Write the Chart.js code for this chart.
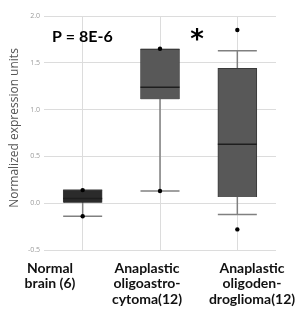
<!DOCTYPE html>
<html>
<head>
<meta charset="utf-8">
<script src="https://cdn.jsdelivr.net/npm/chart.js@4"></script>
<style>
  html, body { margin: 0; padding: 0; background: #fff; }
  #wrap { width: 305px; height: 319px; position: relative; }
</style>
</head>
<body>
<div id="wrap"><canvas id="myChart" width="305" height="319"></canvas></div>
<script>
// categorias e valores
const grupos = [['Normal', 'brain (6)'], ['Anaplastic', 'oligoastro-', 'cytoma(12)'], ['Anaplastic', 'oligoden-', 'droglioma(12)']];
const posicoes = [0.5, 1.5, 2.5];
const q1 = [0.0, 1.11, 0.065];
const mediana = [0.05, 1.24, 0.63];
const q3 = [0.14, 1.645, 1.44];
const bigodeMin = [-0.14, 0.13, -0.12];
const bigodeMax = [0.14, 1.645, 1.63];
const pontosX = [0.5, 0.5, 1.5, 1.5, 2.5, 2.5];
const pontosY = [0.14, -0.14, 1.65, 0.13, 1.85, -0.28];
const corCaixa = ['#2b2b2b', '#585858', '#585858'];
const yTicks = [-0.5, 0, 0.5, 1.0, 1.5, 2.0];

const ctx = document.getElementById('myChart');

const desenhaExtras = {
  id: 'extras',
  beforeDatasetsDraw(chart) {
    const c = chart.ctx;
    const x = chart.scales.x, y = chart.scales.y;
    const meia = 19.5;
    c.save();
    c.strokeStyle = '#808080';
    c.lineWidth = 1.5;
    posicoes.forEach((p, i) => {
      const px = x.getPixelForValue(p);
      c.beginPath();
      c.moveTo(px, y.getPixelForValue(bigodeMax[i]));
      c.lineTo(px, y.getPixelForValue(bigodeMin[i]));
      c.stroke();
      [bigodeMin[i], bigodeMax[i]].forEach(v => {
        const py = y.getPixelForValue(v);
        c.beginPath();
        c.moveTo(px - meia, py);
        c.lineTo(px + meia, py);
        c.stroke();
      });
    });
    c.restore();
  },
  afterDatasetsDraw(chart) {
    const c = chart.ctx;
    const x = chart.scales.x, y = chart.scales.y;
    const meia = 19.5;
    c.save();
    c.strokeStyle = '#1e1e1e';
    c.lineWidth = 1.5;
    posicoes.forEach((p, i) => {
      const px = x.getPixelForValue(p);
      const py = y.getPixelForValue(mediana[i]);
      c.beginPath();
      c.moveTo(px - meia, py);
      c.lineTo(px + meia, py);
      c.stroke();
    });
    // textos
    c.fillStyle = '#000';
    c.font = 'bold 16px Lato';
    c.textAlign = 'left';
    c.textBaseline = 'alphabetic';
    c.fillText('P = 8E-6', 52, 42);
    c.font = 'bold 26px "DejaVu Sans"';
    c.textAlign = 'center';
    c.fillText('*', 197, 48);
    // titulo do eixo
    c.save();
    c.translate(15, 128);
    c.rotate(-Math.PI / 2);
    c.fillStyle = '#555';
    c.font = '12px "Open Sans"';
    c.textBaseline = 'middle';
    c.fillText('Normalized expression units', 0, 0);
    c.restore();
    // rotulos das categorias
    const centros = [50, 147, 252];
    c.font = 'bold 14px Lato';
    c.fillStyle = '#111';
    c.textBaseline = 'middle';
    grupos.forEach((linhas, i) => {
      linhas.forEach((t, j) => {
        c.fillText(t, centros[i], 268 + j * 15.5);
      });
    });
    c.restore();
  }
};

const chart = new Chart(ctx, {
  type: 'bar',
  data: {
    datasets: [{
      type: 'bar',
      data: posicoes.map((p, i) => ({ x: p, y: [q1[i], q3[i]] })),
      backgroundColor: corCaixa,
      borderColor: '#3a3a3a',
      borderWidth: 1,
      barThickness: 39,
      order: 2
    }, {
      type: 'scatter',
      data: pontosX.map((p, i) => ({ x: p, y: pontosY[i] })),
      pointRadius: 2.2,
      pointBackgroundColor: '#000',
      pointBorderWidth: 0,
      order: 1
    }]
  },
  options: {
    responsive: false,
    animation: false,
    layout: { padding: { top: 16, right: 29, bottom: 69, left: 0 } },
    plugins: { legend: { display: false }, tooltip: { enabled: false } },
    scales: {
      x: {
        type: 'linear',
        min: 0,
        max: 3,
        offset: false,
        ticks: { display: false, stepSize: 1 },
        grid: { color: '#dcdcdc', drawTicks: false },
        border: { display: false }
      },
      y: {
        min: -0.5,
        max: 2.0,
        afterBuildTicks: s => { s.ticks = yTicks.map(v => ({ value: v })); },
        afterFit: s => { s.width = 44; },
        ticks: {
          color: '#9a9a9a',
          font: { size: 7, family: 'Open Sans' },
          padding: 4,
          callback: v => v.toFixed(1)
        },
        grid: { color: '#dcdcdc', drawTicks: false },
        border: { display: false }
      }
    }
  },
  plugins: [desenhaExtras]
});
</script>
</body>
</html>
